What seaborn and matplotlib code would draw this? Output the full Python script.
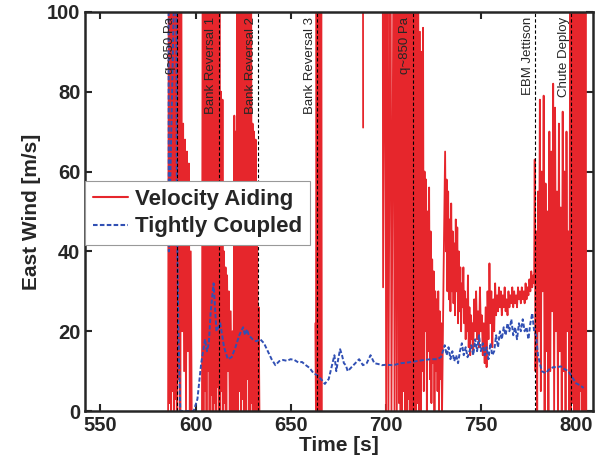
import numpy as np
import pandas as pd
import matplotlib
matplotlib.use("Agg")
import matplotlib.pyplot as plt
from matplotlib.lines import Line2D
import seaborn as sns

# Velocity aiding east wind estimate, split where the trace has gaps
va_seg1_t = [585.6, 586.0, 586.4, 586.8, 587.2, 587.6, 588.0, 588.4, 588.8, 589.2, 589.6, 590.0,
             590.4, 590.8, 591.2, 591.6, 592.0, 592.5, 593.0, 593.5, 594.0, 594.5, 595.0, 595.5,
             596.0, 596.5, 597.0, 597.5, 598.0]
va_seg1_v = [0, 130, 2, 130, 0, 130, 5, 130, 0, 130, 3, 130,
             0, 130, 8, 125, 0, 120, 20, 72, 10, 68, 0, 65,
             15, 62, 0, 40, 0]

va_seg2_t = [603.4, 603.8, 604.2, 604.6, 605.0, 605.4, 605.8, 606.2, 606.6, 607.0, 607.4, 607.8,
             608.2, 608.6, 609.0, 609.4, 609.8, 610.2, 610.6, 611.0, 611.4, 611.8, 612.2, 612.6,
             613.0, 613.4, 613.8, 614.2, 614.6, 615.0, 615.4, 615.8, 616.2, 616.6, 617.0, 617.5,
             618.0, 618.5, 619.0, 619.5, 620.0, 620.4, 620.8, 621.2, 621.6, 622.0, 622.4, 622.8,
             623.2, 623.6, 624.0, 624.4, 624.8, 625.2, 625.6, 626.0, 626.4, 626.8, 627.2, 627.6,
             628.0, 628.4, 628.8, 629.2, 629.6, 630.0, 630.4, 630.8, 631.2, 631.6, 632.0, 632.4,
             632.8, 633.2, 633.6]
va_seg2_v = [0, 130, 0, 130, 5, 130, 0, 130, 10, 130, 0, 130,
             4, 130, 0, 130, 2, 130, 0, 130, 6, 130, 0, 130,
             0, 80, 5, 78, 0, 40, 2, 36, 0, 34, 10, 30,
             0, 25, 0, 20, 0, 74, 0, 70, 0, 130, 0, 130,
             5, 130, 0, 130, 3, 130, 0, 130, 0, 130, 8, 130,
             0, 130, 0, 130, 2, 72, 0, 70, 0, 68, 0, 45,
             0, 26, 0]

va_seg3_t = [663.0, 663.3, 663.6, 664.0, 664.3, 664.6, 664.9, 665.2, 665.5, 665.8, 666.1, 666.4]
va_seg3_v = [22, 0, 130, 0, 130, 0, 130, 0, 130, 0, 130, 0]

va_seg4_t = [688.0, 688.1]
va_seg4_v = [130, 71]

va_seg5_t = [698.4, 698.6, 699.8, 700.2, 701.0, 701.4, 702.5, 703.0, 704.2, 704.6, 705.4, 705.8,
             706.6, 707.0, 707.4, 707.8, 708.2, 708.6, 709.0, 709.4, 709.8, 710.2, 710.6, 711.0,
             711.4, 711.8, 712.2, 712.6, 713.0, 713.4, 713.8, 714.2, 714.6, 715.0, 715.4, 715.8,
             716.2, 716.6, 717.0, 717.4, 718.0, 718.4, 718.8, 719.2, 719.6, 720.0, 720.4, 720.8,
             721.2, 721.6, 722.0, 722.4, 722.8, 723.2, 723.6, 724.0, 724.4, 724.8, 725.2, 725.6,
             726.0, 726.4, 726.8, 727.2, 727.6, 728.0, 728.4, 728.8, 729.2, 729.6, 730.0, 730.4,
             730.8, 731.2, 731.6, 732.0, 732.4, 732.8, 733.2, 733.6, 734.0, 734.4, 734.8, 735.2,
             735.6, 736.0, 736.4, 736.8, 737.2, 737.6, 738.0, 738.4, 738.8, 739.2, 739.6, 740.0,
             740.4, 740.8, 741.2, 741.6, 742.0, 742.4, 742.8, 743.2, 743.6, 744.0, 744.4, 744.8,
             745.2, 745.6, 746.0, 746.5, 747.0, 747.5, 748.0, 748.5, 749.0, 749.5, 750.0, 750.5,
             751.0, 751.5, 752.0, 752.5, 753.0, 753.5, 754.0, 754.5, 755.0, 755.5, 756.0, 756.5,
             757.0, 757.5, 758.0, 758.5, 759.0, 759.5, 760.0, 760.5, 761.0, 761.5, 762.0, 762.5,
             763.0, 763.5, 764.0, 764.5, 765.0, 765.5, 766.0, 766.5, 767.0, 767.5, 768.0, 768.5,
             769.0, 769.5, 770.0, 770.5, 771.0, 771.5, 772.0, 772.5, 773.0, 773.5, 774.0, 774.5,
             775.0, 775.5, 776.0, 776.5, 777.0, 777.5, 778.0, 778.3, 778.7, 779.2, 779.6, 780.0,
             780.5, 781.0, 781.5, 782.0, 782.5, 783.0, 783.5, 784.0, 784.5, 785.0, 785.5, 786.0,
             786.5, 787.0, 787.5, 788.0, 788.5, 789.0, 789.5, 790.0, 790.5, 791.0, 791.5, 792.0,
             792.5, 793.0, 793.5, 794.0, 794.5, 795.0, 795.5, 796.0, 796.5, 797.0, 797.4, 797.8,
             798.2, 798.6, 799.0, 799.4, 799.8, 800.2, 800.6, 801.0, 801.4, 801.8, 802.2, 802.6,
             803.0, 803.4, 803.8, 804.2, 804.6, 805.0, 805.4]
va_seg5_v = [130, 31, 130, 0, 130, 0, 130, 0, 130, 0, 130, 0,
             130, 2, 130, 0, 130, 0, 130, 5, 130, 0, 130, 0,
             130, 3, 130, 0, 130, 0, 130, 0, 130, 0, 130, 0,
             130, 2, 130, 0, 95, 0, 90, 10, 96, 5, 60, 20,
             58, 0, 50, 15, 56, 8, 45, 2, 38, 12, 35, 0,
             30, 10, 28, 5, 30, 0, 25, 8, 22, 0, 18, 35,
             50, 65, 40, 58, 30, 55, 28, 48, 25, 52, 30, 45,
             27, 42, 24, 48, 30, 46, 22, 40, 25, 36, 20, 32,
             26, 36, 22, 30, 18, 28, 20, 34, 16, 26, 14, 24,
             18, 22, 15, 28, 20, 30, 18, 25, 16, 31, 20, 24,
             14, 22, 12, 26, 11, 30, 18, 37, 22, 30, 16, 28,
             20, 32, 24, 29, 25, 31, 26, 30, 24, 29, 26, 31,
             25, 28, 24, 30, 26, 29, 27, 31, 26, 30, 27, 29,
             26, 31, 28, 30, 27, 31, 28, 30, 27, 32, 28, 31,
             29, 33, 30, 35, 31, 34, 32, 63, 10, 45, 0, 55,
             20, 78, 5, 60, 30, 79, 0, 57, 15, 50, 0, 70,
             10, 65, 25, 82, 0, 76, 20, 55, 0, 72, 15, 51,
             0, 75, 10, 60, 0, 70, 20, 45, 0, 130, 0, 130,
             2, 130, 0, 130, 0, 130, 0, 130, 0, 130, 5, 130,
             0, 130, 0, 130, 0, 130, 0]

# Tightly coupled east wind estimate
tc_t = [585.8, 586.0, 589.8, 590.2, 591.0, 592.0, 599.0, 601.0, 603.0, 605.0, 606.0, 607.0,
        608.0, 609.5, 611.0, 613.0, 615.0, 617.0, 619.0, 621.0, 623.0, 625.0, 626.0, 627.0,
        628.0, 630.0, 632.0, 634.0, 636.0, 638.0, 640.0, 642.0, 644.0, 646.0, 648.0, 650.0,
        652.0, 654.0, 656.0, 658.0, 660.0, 662.0, 664.0, 666.0, 668.0, 669.0, 670.0, 672.0,
        673.0, 674.0, 675.0, 676.0, 677.0, 678.0, 679.0, 680.0, 682.0, 684.0, 686.0, 688.0,
        690.0, 692.0, 694.0, 696.0, 698.0, 700.0, 704.0, 708.0, 712.0, 716.0, 720.0, 724.0,
        727.0, 729.0, 731.0, 732.0, 733.0, 734.0, 735.0, 736.0, 737.0, 738.0, 739.0, 740.0,
        741.0, 742.0, 743.0, 744.0, 745.0, 746.0, 747.0, 748.0, 749.0, 750.0, 751.0, 752.0,
        753.0, 754.0, 755.0, 756.0, 757.0, 758.0, 759.0, 760.0, 761.0, 762.0, 763.0, 764.0,
        765.0, 766.0, 767.0, 768.0, 769.0, 770.0, 771.0, 772.0, 773.0, 774.0, 775.0, 776.0,
        777.0, 778.0, 779.0, 780.0, 781.0, 782.0, 784.0, 786.0, 788.0, 790.0, 792.0, 794.0,
        796.0, 798.0, 800.0, 802.0, 804.0]
tc_v = [130, 40, 130, 50, 20, 0, 0, 3, 12, 18, 15, 17,
        25, 32, 20, 22, 16, 13, 13.5, 16, 19, 21, 19, 20.5,
        19, 18, 17.5, 18, 17, 15, 13, 11.5, 12.5, 12.8, 12.6, 13,
        12.8, 12.2, 12.3, 11.5, 10.8, 9.5, 9, 8, 6.8, 7.5, 8, 12,
        14, 10, 13, 15.5, 14, 12, 11.5, 10, 11, 12, 13, 11.5,
        12, 14, 12, 11.8, 11.5, 11.6, 11.5, 12, 12.2, 12.5, 12.8, 13,
        13, 13.5, 16.5, 14, 16, 13, 15, 12.5, 14, 12, 15, 17,
        14, 16, 13.5, 15, 16.5, 14, 18, 15, 19, 15, 17, 14,
        16, 13, 17, 14, 15, 19, 16, 20, 18, 21, 19, 22,
        20, 23, 19, 21, 18, 22, 20, 23, 20, 21, 18, 22,
        24.5, 20, 19, 14, 12, 10, 9.5, 10.5, 11, 11, 11.2, 10.5,
        10, 8.5, 7, 6.5, 5.8]

event_t = [590.3, 612.1, 633.1, 663.8, 714.2, 778.5, 797.3]
event_labels = ["q~850 Pa", "Bank Reversal 1", "Bank Reversal 2", "Bank Reversal 3",
                "q~850 Pa", "EBM Jettison", "Chute Deploy"]

red = "#e6262c"
blue = "#3150b4"

segs = [(va_seg1_t, va_seg1_v), (va_seg2_t, va_seg2_v), (va_seg3_t, va_seg3_v),
        (va_seg4_t, va_seg4_v), (va_seg5_t, va_seg5_v)]
va = pd.concat([pd.DataFrame({"t": t, "v": v, "seg": i}) for i, (t, v) in enumerate(segs)],
               ignore_index=True)
tc = pd.DataFrame({"t": tc_t, "v": tc_v})

sns.set_style("ticks")
plt.rcParams["font.family"] = ["Liberation Sans", "DejaVu Sans"]
plt.rcParams["xtick.direction"] = "in"
plt.rcParams["ytick.direction"] = "in"

fig = plt.figure(figsize=(6.04, 4.72), dpi=100)
ax = fig.add_axes([0.141, 0.129, 0.841, 0.846])

sns.lineplot(data=va, x="t", y="v", units="seg", estimator=None, sort=False,
             color=red, lw=1.3, ax=ax)
sns.lineplot(data=tc, x="t", y="v", estimator=None, sort=False,
             color=blue, lw=1.4, linestyle=(0, (2.2, 1.1)), ax=ax)

for t, lab in zip(event_t, event_labels):
    ax.axvline(t, color="k", lw=0.8, linestyle=(0, (3, 2)))
    ax.text(t - 0.7, 98.8, lab, rotation=90, ha="right", va="top", fontsize=9.5)

ax.set_xlim(542, 809)
ax.set_ylim(0, 100)
ax.set_xticks([550, 600, 650, 700, 750, 800])
ax.set_yticks([0, 20, 40, 60, 80, 100])
ax.tick_params(axis="both", which="both", top=True, right=True, length=5, width=1.5,
               labelsize=14.5)
for lab in ax.get_xticklabels() + ax.get_yticklabels():
    lab.set_fontweight("bold")
for s in ax.spines.values():
    s.set_visible(True)
    s.set_linewidth(1.8)
ax.set_xlabel("Time [s]", fontsize=15, fontweight="bold", labelpad=1)
ax.set_ylabel("East Wind [m/s]", fontsize=15, fontweight="bold", labelpad=4)

handles = [Line2D([], [], color=red, lw=1.5),
           Line2D([], [], color=blue, lw=1.5, linestyle=(0, (2.2, 1.1)))]
leg = ax.legend(handles, ["Velocity Aiding", "Tightly Coupled"], loc="center left",
                bbox_to_anchor=(0.0, 0.496), prop={"weight": "bold", "size": 16},
                frameon=True, fancybox=False, framealpha=1, edgecolor="#999999",
                handlelength=1.6, handletextpad=0.3, borderaxespad=0.0, borderpad=0.35,
                labelspacing=0.3)
leg.get_frame().set_linewidth(0.8)

fig.savefig("out.png", dpi=100)
